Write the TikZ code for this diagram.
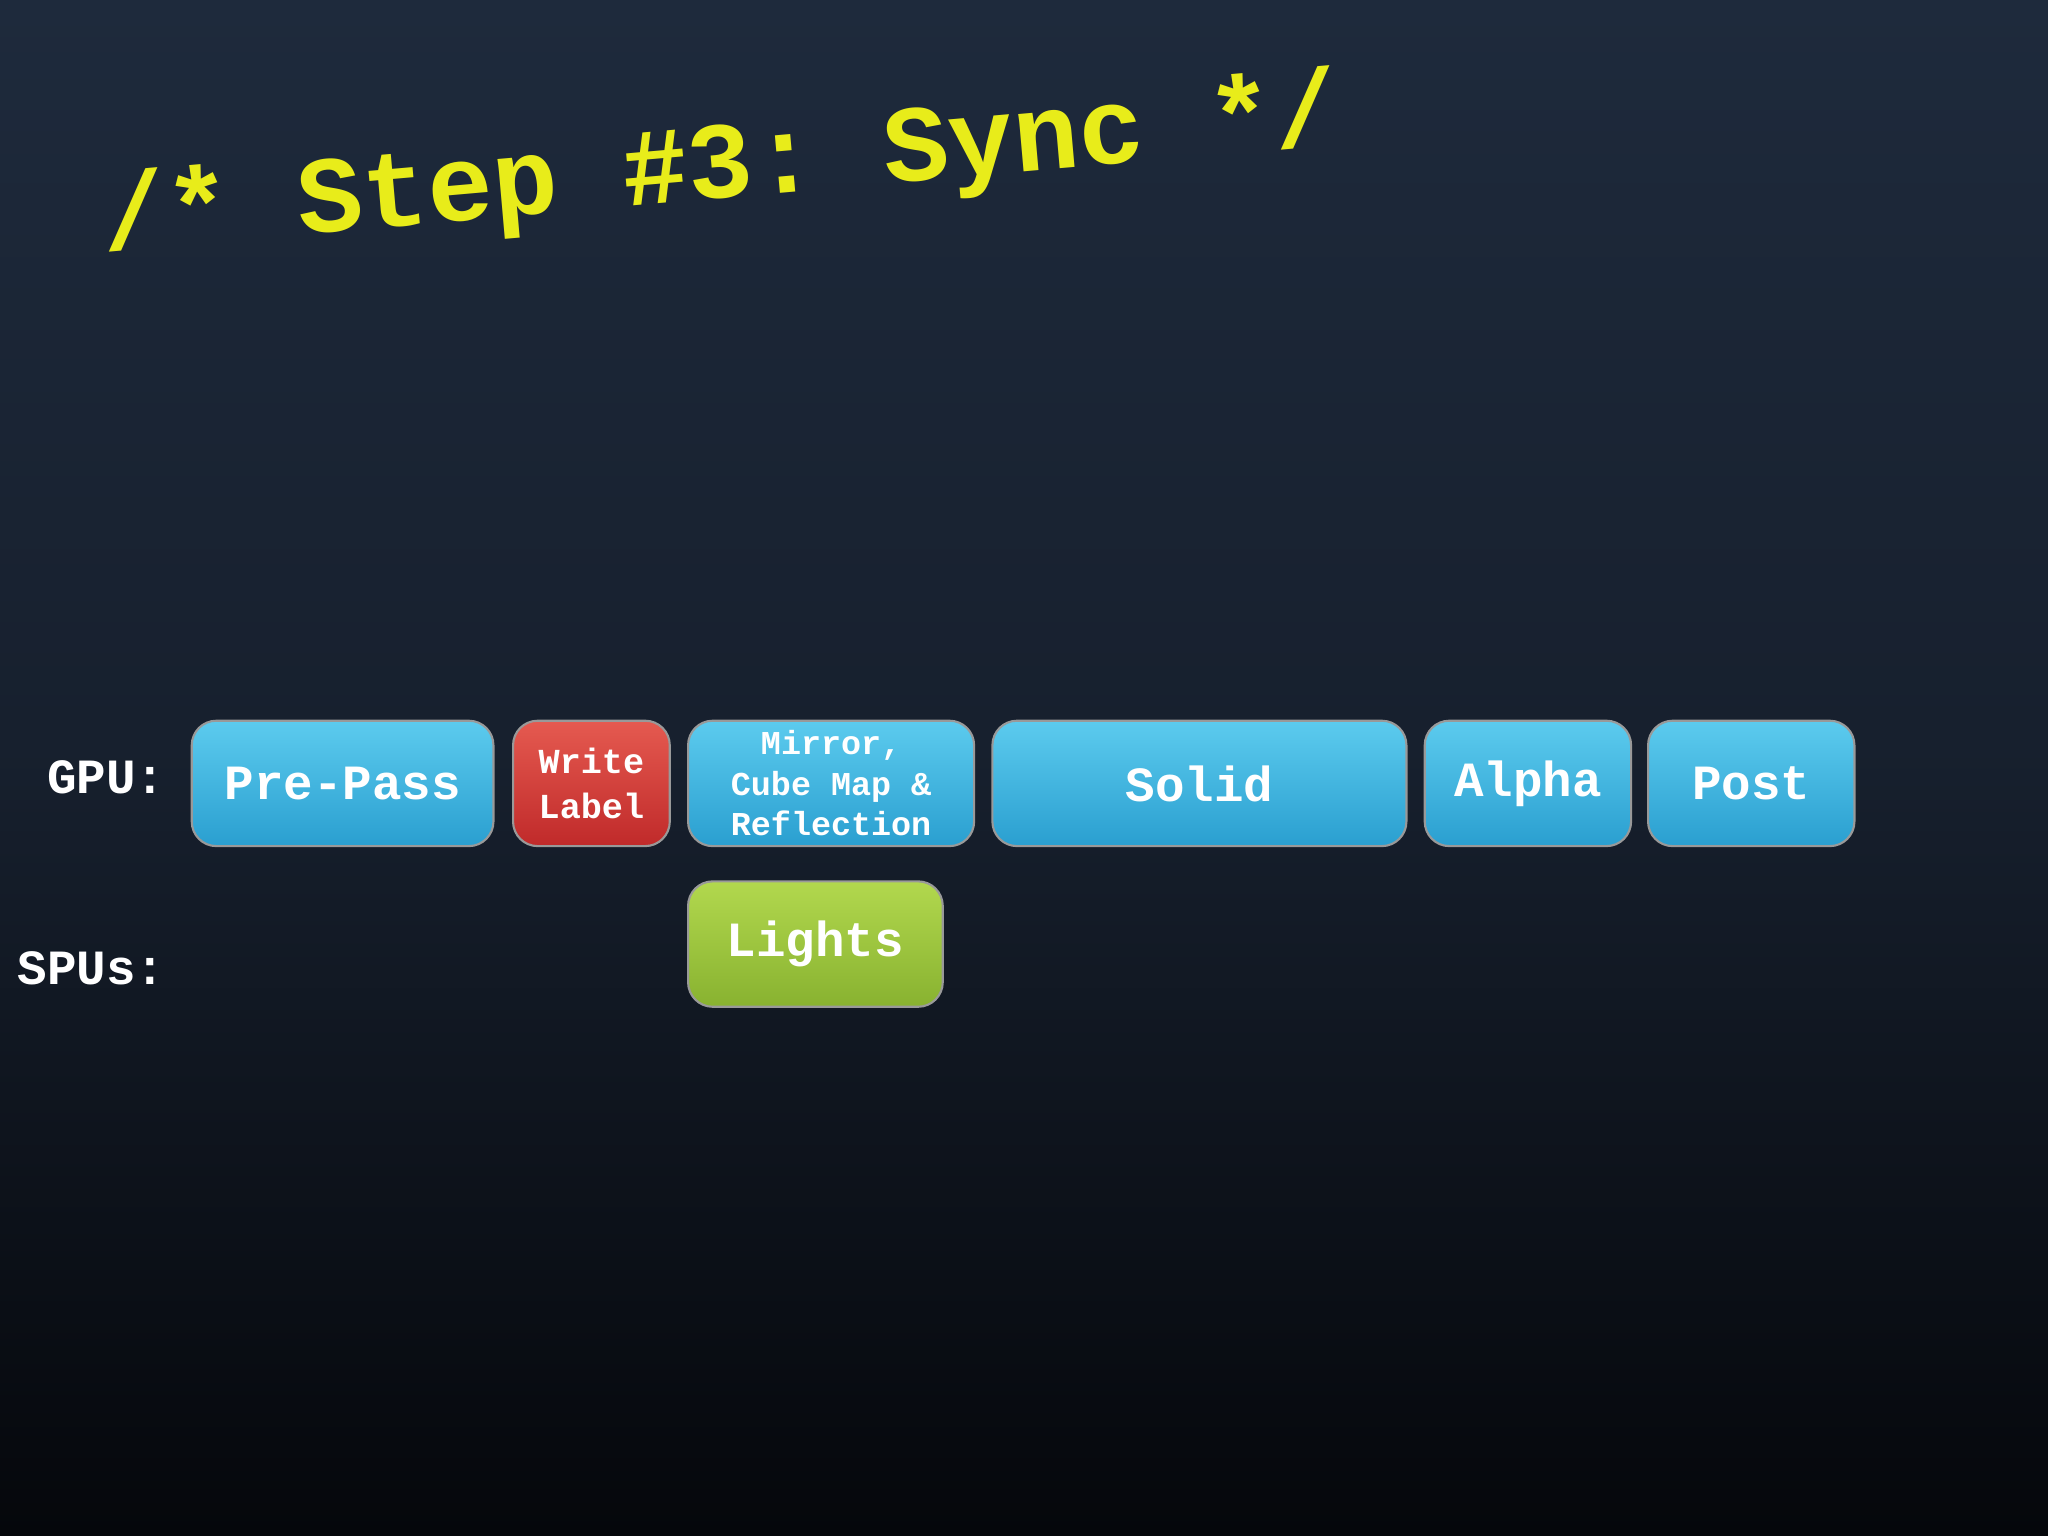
\documentclass[tikz,border=0pt]{standalone}
\usepackage{fontspec}
\setmonofont{Liberation Mono}
\definecolor{bgtop}{HTML}{1E2A3C}
\definecolor{bgbot}{HTML}{05070B}
\definecolor{cyantop}{HTML}{5CCBEE}
\definecolor{cyanbot}{HTML}{2A9FD0}
\definecolor{redtop}{HTML}{E55A50}
\definecolor{redbot}{HTML}{C02A2A}
\definecolor{grntop}{HTML}{B2D84E}
\definecolor{grnbot}{HTML}{88B230}
\definecolor{ttl}{HTML}{E8EC1A}
\tikzset{
  box/.style={rounded corners=7pt, draw=white!60!black, line width=0.6pt, inner sep=0pt, anchor=north west, align=center, text=white, font=\ttfamily\bfseries},
  cyanbox/.style={box, top color=cyantop, bottom color=cyanbot},
  redbox/.style={box, top color=redtop, bottom color=redbot},
  grnbox/.style={box, top color=grntop, bottom color=grnbot},
  rowlbl/.style={text=white, font=\ttfamily\bfseries\fontsize{14}{16}\selectfont, anchor=east}
}
\begin{document}
\begin{tikzpicture}[x=0.01306cm,y=-0.01306cm]
\useasboundingbox (0,0) rectangle (1568,1176);
\shade[top color=bgtop, bottom color=bgbot, middle color=bgtop!70!bgbot] (0,0) rectangle (1568,1176);
\node[text=ttl, font=\ttfamily\bfseries\fontsize{31}{36}\selectfont, rotate=5, anchor=center] (title) at (552,130) {/* Step \#3: Sync */};
\node[rowlbl] (gpu) at (136,595) {GPU:};
\node[rowlbl] (spu) at (136,741) {SPUs:};
\node[cyanbox, minimum width=231*0.01306cm, minimum height=96*0.01306cm, font=\ttfamily\bfseries\fontsize{14}{16}\selectfont] (pre) at (146,551) {Pre-Pass};
\node[redbox, minimum width=120*0.01306cm, minimum height=96*0.01306cm, font=\ttfamily\bfseries\fontsize{10}{13}\selectfont] (wl) at (392,551) {Write\\Label};
\node[cyanbox, minimum width=219*0.01306cm, minimum height=96*0.01306cm, font=\ttfamily\bfseries\fontsize{9.5}{11.5}\selectfont] (mir) at (526,551) {Mirror,\\Cube Map \&\\Reflection};
\node[cyanbox, minimum width=317*0.01306cm, minimum height=96*0.01306cm, font=\ttfamily\bfseries\fontsize{14}{16}\selectfont] (sol) at (759,551) {Solid};
\node[cyanbox, minimum width=158*0.01306cm, minimum height=96*0.01306cm, font=\ttfamily\bfseries\fontsize{14}{16}\selectfont] (alp) at (1090,551) {Alpha};
\node[cyanbox, minimum width=158*0.01306cm, minimum height=96*0.01306cm, font=\ttfamily\bfseries\fontsize{14}{16}\selectfont] (post) at (1261,551) {Post};
\node[grnbox, minimum width=195*0.01306cm, minimum height=96*0.01306cm, font=\ttfamily\bfseries\fontsize{14}{16}\selectfont] (lights) at (526,674) {Lights};
\end{tikzpicture}
\end{document}
